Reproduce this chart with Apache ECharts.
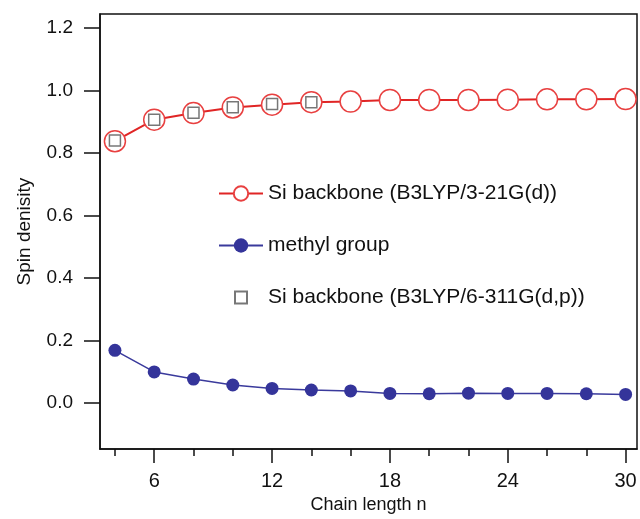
<!DOCTYPE html>
<html>
<head>
<meta charset="utf-8">
<script src="https://cdn.jsdelivr.net/npm/echarts@6/dist/echarts.min.js"></script>
<style>
  html, body { margin: 0; padding: 0; background: #fff; }
  #chart { width: 640px; height: 519px; }
</style>
</head>
<body>
<div id="chart"></div>
<script>
// chain length n
var chainLength = [4, 6, 8, 10, 12, 14, 16, 18, 20, 22, 24, 26, 28, 30];
// Si backbone, B3LYP/3-21G(d)
var siBackbone321 = [0.837, 0.906, 0.927, 0.945, 0.954, 0.962, 0.964, 0.969, 0.969, 0.969, 0.970, 0.971, 0.971, 0.972];
// methyl group
var methylGroup = [0.168, 0.099, 0.076, 0.057, 0.046, 0.041, 0.038, 0.030, 0.029, 0.031, 0.030, 0.030, 0.029, 0.027];
// Si backbone, B3LYP/6-311G(d,p) (only short chains)
var chainLengthBig = [4, 6, 8, 10, 12, 14];
var siBackbone6311 = [0.839, 0.906, 0.928, 0.946, 0.956, 0.962];

var xMajorTicks = [6, 12, 18, 24, 30];
var xMinorTicks = [4, 8, 10, 14, 16, 20, 22, 26, 28];
var yTicks = [0, 0.2, 0.4, 0.6, 0.8, 1.0, 1.2];

function pairs(xs, ys) {
  var out = [];
  for (var i = 0; i < xs.length; i++) {
    out.push([xs[i], ys[i]]);
  }
  return out;
}

var fontFam = '"Liberation Sans", Arial, sans-serif';
var xMin = 3.24, xMax = 30.58;

var chart = echarts.init(document.getElementById("chart"));
var option = {
  animation: false,
  textStyle: { fontFamily: fontFam },
  grid: {
    left: 100,
    right: 3,
    top: 14,
    bottom: 68,
    show: true,
    borderColor: "#111",
    borderWidth: 1.5,
    backgroundColor: "transparent"
  },
  legend: {
    orient: "vertical",
    left: 213,
    top: 178,
    itemWidth: 44,
    itemHeight: 18,
    itemGap: 31,
    textStyle: { fontSize: 21, color: "#111", fontFamily: fontFam },
    data: [
      { name: "Si backbone (B3LYP/3-21G(d))" },
      { name: "methyl group" },
      { name: "Si backbone (B3LYP/6-311G(d,p))", icon: "path://M0,0M3,3h12v12h-12zM18,18" }
    ]
  },
  xAxis: [
    {
      type: "value",
      min: xMin,
      max: xMax,
      position: "bottom",
      name: "Chain length n",
      nameLocation: "middle",
      nameGap: 44,
      nameTextStyle: { fontSize: 18, color: "#111" },
      splitLine: { show: false },
      axisLine: { onZero: false, lineStyle: { color: "#111", width: 1.5 } },
      axisTick: {
        length: 14,
        customValues: xMajorTicks,
        lineStyle: { color: "#111", width: 1.5 }
      },
      axisLabel: {
        customValues: xMajorTicks,
        margin: 22,
        fontSize: 20,
        color: "#111"
      }
    },
    {
      type: "value",
      min: xMin,
      max: xMax,
      position: "bottom",
      splitLine: { show: false },
      axisLine: { show: false, onZero: false },
      axisTick: {
        length: 7,
        customValues: xMinorTicks,
        lineStyle: { color: "#111", width: 1.5 }
      },
      axisLabel: { show: false }
    }
  ],
  yAxis: {
    type: "value",
    min: -0.148,
    max: 1.244,
    name: "Spin denisity",
    nameLocation: "middle",
    nameGap: 66,
    nameTextStyle: { fontSize: 19, color: "#111" },
    splitLine: { show: false },
    axisLine: { onZero: false, lineStyle: { color: "#111", width: 1.5 } },
    axisTick: {
      length: 16,
      customValues: yTicks,
      lineStyle: { color: "#111", width: 1.5 }
    },
    axisLabel: {
      customValues: yTicks,
      margin: 27,
      fontSize: 19,
      color: "#111",
      formatter: function (v) { return v.toFixed(1); }
    }
  },
  series: [
    {
      name: "Si backbone (B3LYP/3-21G(d))",
      type: "line",
      xAxisIndex: 0,
      data: pairs(chainLength, siBackbone321),
      symbol: "circle",
      symbolSize: 21,
      lineStyle: { color: "#e02525", width: 2 },
      itemStyle: { color: "#fff", borderColor: "#e84040", borderWidth: 1.5 },
      z: 2
    },
    {
      name: "methyl group",
      type: "line",
      xAxisIndex: 0,
      data: pairs(chainLength, methylGroup),
      symbol: "circle",
      symbolSize: 13,
      lineStyle: { color: "#3a3a9c", width: 1.5 },
      itemStyle: { color: "#34349a" },
      z: 2
    },
    {
      name: "Si backbone (B3LYP/6-311G(d,p))",
      type: "scatter",
      xAxisIndex: 0,
      data: pairs(chainLengthBig, siBackbone6311),
      symbol: "rect",
      symbolSize: 11,
      itemStyle: { color: "#fff", borderColor: "#555", borderWidth: 1.5 },
      z: 3
    }
  ]
};
chart.setOption(option);
window.addEventListener("resize", function () {
  chart.resize();
});
</script>
</body>
</html>
